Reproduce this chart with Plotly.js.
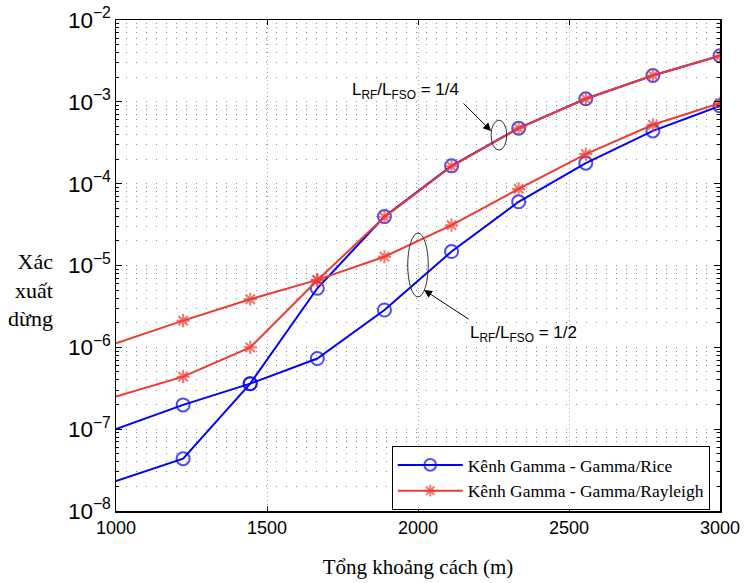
<!DOCTYPE html>
<html>
<head>
<meta charset="utf-8">
<script src="https://cdn.plot.ly/plotly-3.0.1.min.js"></script>
<style>html,body{margin:0;padding:0;background:#fff;}#chart{width:746px;height:583px;}</style>
</head>
<body>
<div id="chart"></div>
<script>
// Distances (m)
const distance = [1000, 1222.2, 1444.4, 1666.7, 1888.9, 2111.1, 2333.3, 2555.6, 2777.8, 3000];
// Outage probability, L_RF/L_FSO = 1/2
const riceHalf     = [1.0e-7, 1.98e-7, 3.6e-7, 7.3e-7, 2.86e-6, 1.48e-5, 6.0e-5, 1.78e-4, 4.41e-4, 8.93e-4];
const rayleighHalf = [1.12e-6, 2.12e-6, 3.87e-6, 6.67e-6, 1.28e-5, 3.11e-5, 8.63e-5, 2.30e-4, 5.24e-4, 9.6e-4];
// Outage probability, L_RF/L_FSO = 1/4
const riceQuarter     = [2.33e-8, 4.36e-8, 3.6e-7, 5.27e-6, 3.96e-5, 1.65e-4, 4.77e-4, 1.09e-3, 2.10e-3, 3.65e-3];
const rayleighQuarter = [2.5e-7, 4.38e-7, 1.0e-6, 6.6e-6, 3.9e-5, 1.63e-4, 4.75e-4, 1.09e-3, 2.10e-3, 3.65e-3];

const seriesNames = ['Kênh Gamma - Gamma/Rice', 'Kênh Gamma - Gamma/Rayleigh'];
const xTitle = 'Tổng khoảng cách (m)';
const yTitle = 'Xác<br>xuất<br>dừng';
const labelQuarter = 'L<sub>RF</sub>/L<sub>FSO</sub> = 1/4';
const labelHalf = 'L<sub>RF</sub>/L<sub>FSO</sub> = 1/2';

const BLUE = '#0000ff';
const RED = '#ee3a30';
const circSizes = distance.map((d, i) => i === 0 ? 0 : 13);
const starSizes = distance.map((d, i) => i === 0 ? 0 : 11);

function blueTrace(y, show) {
  return {x: distance, y: y, type: 'scatter', mode: 'lines+markers', name: seriesNames[0],
    showlegend: show, legendgroup: 'rice',
    line: {color: BLUE, width: 2},
    marker: {symbol: 'circle-open', size: circSizes, color: BLUE, line: {color: BLUE, width: 2}}};
}
function redTrace(y, show) {
  return {x: distance, y: y, type: 'scatter', mode: 'lines+markers', name: seriesNames[1],
    showlegend: show, legendgroup: 'ray',
    line: {color: RED, width: 2},
    marker: {symbol: 'asterisk-open', size: starSizes, color: RED, line: {color: RED, width: 2}}};
}

const data = [
  blueTrace(riceHalf, true),
  blueTrace(riceQuarter, false),
  redTrace(rayleighHalf, true),
  redTrace(rayleighQuarter, false)
];

const tickFont = {family: 'Liberation Sans, Arial, sans-serif', size: 18, color: '#000'};
const serif = 'Liberation Serif, Times New Roman, serif';
const annFont = {family: 'Liberation Sans, Arial, sans-serif', size: 17, color: '#000'};

const layout = {
  width: 746, height: 583,
  margin: {l: 116, r: 26, t: 20, b: 72, pad: 0},
  paper_bgcolor: '#fff', plot_bgcolor: '#fff',
  showlegend: true,
  xaxis: {
    type: 'linear', range: [1000, 3000], dtick: 500, tick0: 1000,
    ticks: 'inside', ticklen: 5, tickwidth: 1, tickcolor: '#000',
    showline: true, linecolor: '#000', linewidth: 1.5, mirror: 'ticks',
    showgrid: true, gridcolor: '#aaa', gridwidth: 1, griddash: '1px,3px',
    zeroline: false, tickfont: tickFont,
    title: {text: xTitle, font: {family: serif, size: 21, color: '#000'}, standoff: 22}
  },
  yaxis: {
    type: 'log', range: [-8, -2], dtick: 1, exponentformat: 'power',
    ticks: 'inside', ticklen: 6, tickwidth: 1, tickcolor: '#000',
    showline: true, linecolor: '#000', linewidth: 1.5, mirror: 'ticks',
    showgrid: true, gridcolor: '#888', gridwidth: 1, griddash: '1px,9px',
    zeroline: false, tickfont: tickFont,
    minor: {dtick: 'D1', ticks: 'inside', ticklen: 3, tickcolor: '#000', showgrid: true,
            gridcolor: '#888', gridwidth: 1, griddash: '1px,9px'}
  },
  legend: {
    x: 0.983, y: 0.002, xanchor: 'right', yanchor: 'bottom',
    bgcolor: '#fff', bordercolor: '#000', borderwidth: 1,
    font: {family: serif, size: 17.5, color: '#000'},
    itemwidth: 65, tracegroupgap: 0, entrywidth: 352, entrywidthmode: 'pixels'
  },
  shapes: [
    {type: 'circle', xref: 'paper', yref: 'paper', x0: 0.621, x1: 0.647, y0: 0.735, y1: 0.796,
     line: {color: '#333', width: 1}},
    {type: 'circle', xref: 'paper', yref: 'paper', x0: 0.483, x1: 0.517, y0: 0.436, y1: 0.566,
     line: {color: '#333', width: 1}}
  ],
  annotations: [
    {xref: 'paper', yref: 'paper', x: -0.101, y: 0.45, xanchor: 'right', yanchor: 'middle',
     align: 'right', text: yTitle, showarrow: false, font: {family: serif, size: 22, color: '#000'}},
    {xref: 'paper', yref: 'paper', x: 0.48, y: 0.856, xanchor: 'center', yanchor: 'middle',
     text: labelQuarter, showarrow: false, font: annFont},
    {xref: 'paper', yref: 'paper', x: 0.675, y: 0.360, xanchor: 'center', yanchor: 'middle',
     text: labelHalf, showarrow: false, font: annFont},
    {xref: 'paper', yref: 'paper', x: 0.621, y: 0.774, text: '', showarrow: true,
     ax: -29, ay: -29, arrowhead: 2, arrowsize: 1.6, arrowwidth: 1, arrowcolor: '#000'},
    {xref: 'paper', yref: 'paper', x: 0.510, y: 0.450, text: '', showarrow: true,
     ax: 46, ay: 30, arrowhead: 2, arrowsize: 1.6, arrowwidth: 1, arrowcolor: '#000'}
  ]
};

Plotly.newPlot('chart', data, layout, {displayModeBar: false, staticPlot: true});
</script>
</body>
</html>
